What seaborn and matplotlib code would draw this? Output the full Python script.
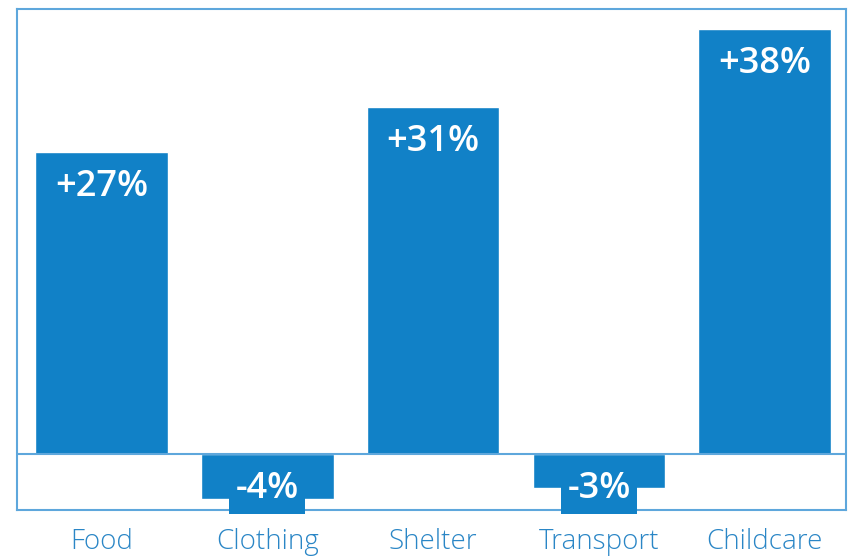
import matplotlib
matplotlib.use("Agg")
import matplotlib.pyplot as plt
import pandas as pd
import seaborn as sns

categories = ["Food", "Clothing", "Shelter", "Transport", "Childcare"]
changes = [27, -4, 31, -3, 38]
labels = ["+27%", "-4%", "+31%", "-3%", "+38%"]

BAR = "#1181c7"
FRAME = "#5ea7dc"
TEXT = "#2a86c6"

sns.set_theme(style="white")
plt.rcParams["font.family"] = ["Open Sans", "DejaVu Sans"]

df = pd.DataFrame({"category": categories, "change": changes})

fig = plt.figure(figsize=(8.48, 5.56), dpi=100)
ax = fig.add_axes([17 / 848, 46 / 556, 829 / 848, 501 / 556])

sns.barplot(data=df, x="category", y="change", color=BAR, saturation=1,
            width=0.8, ax=ax)

ax.set_xlim(-0.51, 4.49)
ax.set_ylim(-5.0, 39.8)
ax.axhline(0, color=FRAME, lw=1.5, zorder=3)

for s in ax.spines.values():
    s.set_color(FRAME)
    s.set_linewidth(1.5)

ax.set_xlabel("")
ax.set_ylabel("")
ax.set_yticks([])
ax.tick_params(axis="x", length=0, pad=13, labelsize=20, labelcolor=TEXT)
for t in ax.get_xticklabels():
    t.set_fontweight("light")

# value labels inside bars; negative ones sit on a tab below the frame
ybot = ax.get_ylim()[0]
for i, (v, lab) in enumerate(zip(changes, labels)):
    if v >= 0:
        ax.annotate(lab, (i, v), xytext=(0, -35), textcoords="offset pixels",
                    ha="center", va="center", color="white", fontsize=26,
                    fontweight="semibold", zorder=5)
    else:
        ax.annotate(lab, (i, ybot), xytext=(0, 21), textcoords="offset pixels",
                    ha="center", va="center", color="white", fontsize=26,
                    fontweight="semibold", zorder=5, annotation_clip=False,
                    bbox=dict(boxstyle="square,pad=0.18", fc=BAR, ec="none"))

fig.savefig("out.png", dpi=100)
